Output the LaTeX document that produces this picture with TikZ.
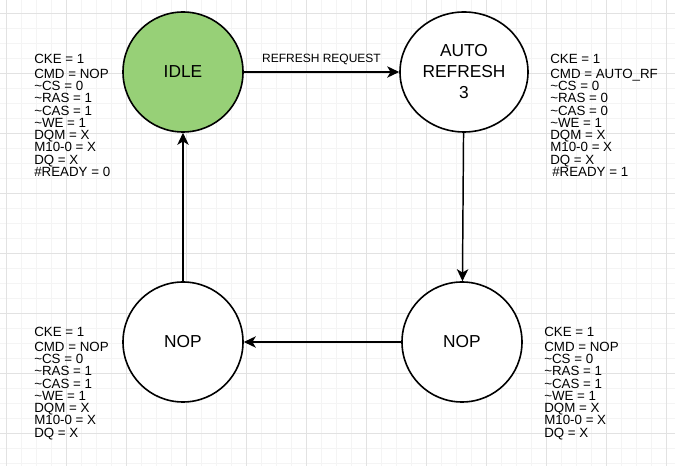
\documentclass[tikz,border=0pt]{standalone}
\usepackage{fontspec}
\setmainfont{Liberation Sans}
\usetikzlibrary{arrows.meta, positioning, shapes.geometric}

\definecolor{idlegreen}{HTML}{97D077}
\definecolor{gridmajor}{HTML}{E2E2E2}
\definecolor{gridminor}{HTML}{F4F4F4}

\begin{document}
\begin{tikzpicture}[x=0.75pt, y=-0.75pt,
    state/.style={draw, line width=1.2pt, fill=white, circle, minimum size=90pt, inner sep=0pt, align=center, font=\fontsize{13}{15.75}\selectfont},
    sig/.style={anchor=north west, inner sep=0pt, align=left, font=\fontsize{10}{9.2}\selectfont},
    trans/.style={-{Stealth[length=9pt, width=8.5pt, inset=2.5pt]}, line width=1.1pt}]
    \useasboundingbox (0,0) rectangle (675,466);
    \fill[white] (0,0) rectangle (675,466);

    % grid
    \foreach \k in {0,...,44} \draw[gridminor, line width=0.75pt] (6.67+15*\k,0) -- ++(0,466);
    \foreach \k in {0,...,30} \draw[gridminor, line width=0.75pt] (0,13.33+15*\k) -- ++(675,0);
    \foreach \k in {0,...,11} \draw[gridmajor, line width=0.75pt] (6.67+60*\k,0) -- ++(0,466);
    \foreach \k in {0,...,7} \draw[gridmajor, line width=0.75pt] (0,13.33+60*\k) -- ++(675,0);

    \node[state, fill=idlegreen] (idle) at (183,72) {IDLE};
    \node[state, ellipse, minimum width=96pt, minimum height=90pt] (auto) at (464,72) {AUTO\\REFRESH\\3};
    \node[state] (nopr) at (462,342) {NOP};
    \node[state] (nopl) at (183,342) {NOP};

    \draw[trans] (idle) -- node[above, inner sep=0pt, yshift=5pt, font=\fontsize{9}{9}\selectfont] (req) {REFRESH REQUEST} (auto);
    \draw[trans] (auto) -- (nopr);
    \draw[trans] (nopr) -- (nopl);
    \draw[trans] (nopl) -- (idle);

    \node[sig] (sigidle) at (34,54) {CKE = 1\\[1.8pt] CMD = NOP\\ \textasciitilde CS = 0\\ \textasciitilde RAS = 1\\ \textasciitilde CAS = 1\\ \textasciitilde WE = 1\\ DQM = X\\ M10-0 = X\\ DQ = X\\ \#READY = 0};
    \node[sig] (sigauto) at (550,54) {CKE = 1\\[1.8pt] CMD = AUTO\_RF\\ \textasciitilde CS = 0\\ \textasciitilde RAS = 0\\ \textasciitilde CAS = 0\\ \textasciitilde WE = 1\\ DQM = X\\ M10-0 = X\\ DQ = X\\ \hspace{1.5pt}\#READY = 1};
    \node[sig] (signopr) at (544,327) {CKE = 1\\[1.8pt] CMD = NOP\\ \textasciitilde CS = 0\\ \textasciitilde RAS = 1\\ \textasciitilde CAS = 1\\ \textasciitilde WE = 1\\ DQM = X\\ M10-0 = X\\ DQ = X};
    \node[sig] (signopl) at (34,327) {CKE = 1\\[1.8pt] CMD = NOP\\ \textasciitilde CS = 0\\ \textasciitilde RAS = 1\\ \textasciitilde CAS = 1\\ \textasciitilde WE = 1\\ DQM = X\\ M10-0 = X\\ DQ = X};
\end{tikzpicture}
\end{document}
